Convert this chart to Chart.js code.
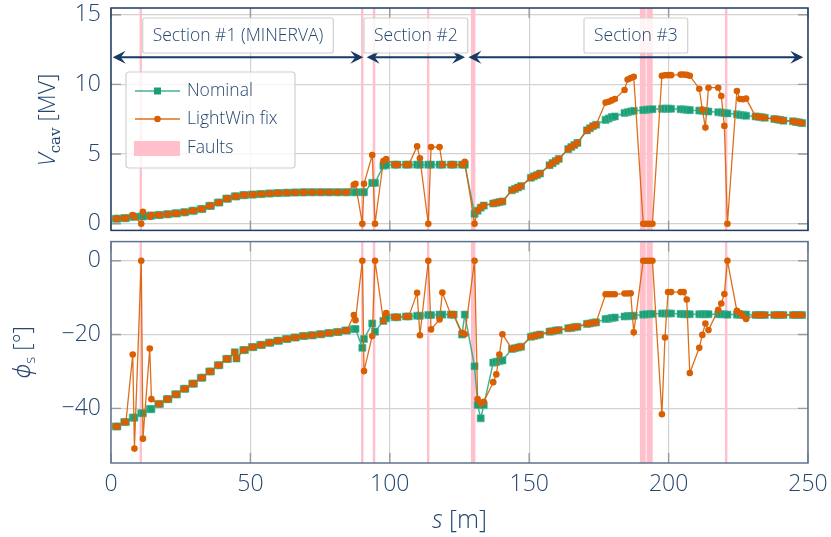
<!DOCTYPE html>
<html>
<head>
<meta charset="utf-8">
<script src="https://cdn.jsdelivr.net/npm/chart.js@4.4.1/dist/chart.umd.min.js"></script>
<style>
  html, body { margin: 0; padding: 0; background: #fff; }
  #wrap { position: relative; width: 831px; height: 537px; }
  canvas { position: absolute; left: 0; }
  #vcav { top: 0; }
  #phis { top: 236px; }
</style>
</head>
<body>
<div id="wrap">
  <canvas id="vcav" width="831" height="236"></canvas>
  <canvas id="phis" width="831" height="301"></canvas>
</div>
<script>
// cavity positions s [m] (section 1: 30 cryomodules x 2, section 2: 9 x 2, section 3: 18 x 4)
const sPos = [
  1.7, 2.3, 4.75, 5.35, 7.8, 8.4, 10.85, 11.45, 13.9, 14.5,
  16.95, 17.55, 20.0, 20.6, 23.05, 23.65, 26.1, 26.7, 29.15, 29.75,
  32.2, 32.8, 35.25, 35.85, 38.3, 38.9, 41.35, 41.95, 44.4, 45.0,
  47.45, 48.05, 50.5, 51.1, 53.55, 54.15, 56.6, 57.2, 59.65, 60.25,
  62.7, 63.3, 65.75, 66.35, 68.8, 69.4, 71.85, 72.45, 74.9, 75.5,
  77.95, 78.55, 81.0, 81.6, 84.05, 84.65, 87.1, 87.7, 90.15, 90.75,
  93.7, 94.7, 97.7, 98.7, 101.75, 102.75, 105.8, 106.8, 109.8, 110.8,
  113.8, 114.8, 117.85, 118.85, 121.9, 122.9, 125.9, 126.9,
  130.4, 131.5, 132.6, 133.7,
  137.1, 138.2, 139.3, 140.4,
  143.8, 144.9, 146.0, 147.1,
  150.6, 151.7, 152.8, 153.9,
  157.3, 158.4, 159.5, 160.6,
  164.0, 165.1, 166.2, 167.3,
  170.7, 171.8, 172.9, 174.0,
  177.4, 178.5, 179.6, 180.7,
  184.2, 185.3, 186.4, 187.5,
  190.9, 192.0, 193.1, 194.2,
  197.6, 198.7, 199.8, 200.9,
  204.3, 205.4, 206.5, 207.6,
  211.0, 212.1, 213.2, 214.3,
  217.8, 218.9, 220.0, 221.1,
  224.5, 225.6, 226.7, 227.8,
  231.2, 232.3, 233.4, 234.5,
  237.9, 239.0, 240.1, 241.2,
  244.6, 245.7, 246.8, 247.9
];

// accelerating voltage [MV]
const vNominal = [
  0.36, 0.36, 0.40, 0.40, 0.50, 0.50, 0.52, 0.52, 0.58, 0.58,
  0.62, 0.62, 0.68, 0.68, 0.74, 0.74, 0.82, 0.82, 0.93, 0.93,
  1.06, 1.06, 1.28, 1.28, 1.52, 1.52, 1.80, 1.80, 1.96, 1.96,
  2.05, 2.05, 2.09, 2.09, 2.13, 2.13, 2.17, 2.17, 2.20, 2.20,
  2.22, 2.22, 2.24, 2.24, 2.25, 2.25, 2.26, 2.26, 2.26, 2.26,
  2.26, 2.26, 2.26, 2.26, 2.26, 2.26, 2.26, 2.26, 2.26, 2.26,
  2.93, 2.93, 4.17, 4.20, 4.24, 4.24, 4.24, 4.24, 4.24, 4.24,
  4.24, 4.24, 4.24, 4.24, 4.24, 4.24, 4.24, 4.24,
  0.71, 0.93, 1.15, 1.30,
  1.45, 1.50, 1.55, 1.60,
  2.40, 2.50, 2.60, 2.70,
  3.30, 3.40, 3.50, 3.60,
  4.20, 4.35, 4.50, 4.65,
  5.35, 5.50, 5.65, 5.80,
  6.70, 6.85, 7.00, 7.10,
  7.45, 7.55, 7.65, 7.70,
  7.95, 8.00, 8.05, 8.10,
  8.15, 8.18, 8.20, 8.22,
  8.25, 8.26, 8.26, 8.25,
  8.22, 8.20, 8.18, 8.15,
  8.12, 8.10, 8.08, 8.05,
  8.00, 7.98, 7.95, 7.92,
  7.85, 7.80, 7.78, 7.75,
  7.70, 7.67, 7.64, 7.60,
  7.52, 7.48, 7.45, 7.40,
  7.35, 7.30, 7.27, 7.22
];
const vFix = [
  0.36, 0.36, 0.40, 0.40, 0.62, 0.50, 0.00, 0.85, 0.50, 0.62,
  0.62, 0.62, 0.68, 0.68, 0.74, 0.74, 0.82, 0.82, 0.93, 0.93,
  1.06, 1.06, 1.28, 1.28, 1.52, 1.52, 1.80, 1.80, 1.96, 1.96,
  2.05, 2.05, 2.09, 2.09, 2.13, 2.13, 2.17, 2.17, 2.20, 2.20,
  2.22, 2.22, 2.24, 2.24, 2.25, 2.25, 2.26, 2.26, 2.26, 2.26,
  2.26, 2.26, 2.26, 2.26, 2.26, 2.26, 2.80, 2.86, 0.00, 2.86,
  4.93, 0.00, 4.50, 4.64, 4.24, 4.24, 4.24, 4.24, 5.55, 4.69,
  0.00, 5.50, 5.50, 4.24, 4.24, 4.24, 4.24, 4.45,
  0.00, 0.95, 1.19, 1.31,
  1.45, 1.50, 1.55, 1.60,
  2.40, 2.50, 2.60, 2.70,
  3.30, 3.40, 3.50, 3.60,
  4.20, 4.35, 4.50, 4.65,
  5.35, 5.50, 5.65, 5.80,
  6.70, 6.85, 7.00, 7.10,
  8.69, 8.75, 8.85, 8.95,
  9.60, 10.35, 10.45, 10.55,
  0.00, 0.00, 0.00, 0.00,
  10.62, 10.65, 10.66, 10.66,
  10.70, 10.70, 10.68, 10.62,
  9.69, 8.20, 6.90, 9.76,
  9.76, 9.17, 7.02, 0.00,
  9.52, 8.95, 8.93, 8.98,
  7.70, 7.67, 7.64, 7.60,
  7.52, 7.48, 7.45, 7.40,
  7.35, 7.30, 7.27, 7.22
];

// synchronous phase [deg]
const phiNominal = [
  -44.9, -44.9, -43.7, -43.7, -42.5, -42.5, -41.3, -41.3, -40.2, -40.2,
  -38.8, -38.8, -37.5, -37.5, -36.2, -36.2, -34.7, -34.7, -33.3, -33.3,
  -31.7, -31.7, -30.0, -30.0, -28.3, -28.3, -26.6, -26.6, -24.8, -26.5,
  -24.2, -24.2, -23.4, -23.4, -22.8, -22.8, -22.2, -22.2, -21.7, -21.7,
  -21.2, -21.2, -20.8, -20.8, -20.4, -20.4, -20.2, -20.2, -19.9, -19.9,
  -19.6, -19.6, -19.3, -19.3, -18.9, -18.9, -18.5, -18.5, -23.6, -21.2,
  -17.0, -19.2, -16.3, -15.6, -15.3, -15.3, -15.1, -15.1, -14.9, -14.9,
  -14.7, -14.7, -14.6, -14.6, -14.6, -14.6, -20.0, -14.6,
  -28.6, -39.1, -42.7, -39.1,
  -27.6, -27.4, -27.2, -27.0,
  -23.9, -23.7, -23.5, -23.3,
  -20.6, -20.4, -20.2, -20.0,
  -19.2, -19.1, -18.9, -18.8,
  -18.3, -18.2, -18.0, -17.9,
  -17.1, -17.0, -16.8, -16.7,
  -15.8, -15.7, -15.5, -15.4,
  -15.1, -15.0, -15.0, -14.9,
  -14.6, -14.5, -14.5, -14.4,
  -14.3, -14.3, -14.3, -14.3,
  -14.4, -14.5, -14.5, -14.5,
  -14.5, -14.5, -14.5, -14.5,
  -14.5, -14.5, -14.5, -14.6,
  -14.6, -14.6, -14.6, -14.6,
  -14.7, -14.7, -14.7, -14.7,
  -14.7, -14.7, -14.7, -14.7,
  -14.7, -14.7, -14.7, -14.7
];
const phiFix = [
  -44.9, -44.9, -43.7, -43.7, -25.4, -50.9, 0.0, -48.2, -23.8, -37.5,
  -38.8, -38.8, -37.5, -37.5, -36.2, -36.2, -34.7, -34.7, -33.3, -33.3,
  -31.7, -31.7, -30.0, -30.0, -28.3, -28.3, -26.6, -26.6, -24.8, -26.5,
  -24.2, -24.2, -23.4, -23.4, -22.8, -22.8, -22.2, -22.2, -21.7, -21.7,
  -21.2, -21.2, -20.8, -20.8, -20.4, -20.4, -20.2, -20.2, -19.9, -19.9,
  -19.6, -19.6, -19.3, -19.3, -18.9, -18.9, -14.7, -16.1, 0.0, -29.9,
  -20.4, 0.0, -16.3, -14.2, -15.3, -15.3, -15.1, -15.1, -8.7, -20.2,
  0.0, -18.6, -15.9, -8.6, -14.6, -14.6, -19.5, -19.9,
  0.0, -37.5, -38.7, -38.2,
  -32.9, -30.8, -25.4, -19.9,
  -23.9, -23.7, -23.5, -23.3,
  -20.6, -20.4, -20.2, -20.0,
  -19.2, -19.1, -18.9, -18.8,
  -18.3, -18.2, -18.0, -17.9,
  -17.1, -17.0, -16.8, -16.7,
  -9.1, -9.1, -9.1, -9.1,
  -8.9, -8.9, -8.8, -19.4,
  0.0, 0.0, 0.0, 0.0,
  -41.6, -20.8, -8.5, -8.5,
  -8.5, -8.5, -10.5, -30.4,
  -23.6, -20.1, -17.0, -18.8,
  -13.3, -11.6, -9.0, 0.0,
  -13.6, -14.2, -15.0, -15.8,
  -14.7, -14.7, -14.7, -14.7,
  -14.7, -14.7, -14.7, -14.7,
  -14.7, -14.7, -14.7, -14.7
];

// failed cavities (s range, m)
const faultStart = [10.25, 89.7, 93.9, 113.35, 129.1, 189.7, 192.1, 220.2];
const faultEnd   = [11.1, 90.56, 94.8, 114.2, 130.7, 191.8, 194.3, 221.1];

// linac sections
const sectionNames = ['Section #1 (MINERVA)', 'Section #2', 'Section #3'];
const sectionStart = [0.6, 91.7, 128.2];
const sectionEnd   = [90.5, 127.0, 248.3];

const xTicks = [0, 50, 100, 150, 200, 250];
const vTicks = [0, 5, 10, 15];
const phiTicks = [0, -20, -40];

const textColor = '#24466f';
const greenLine = 'rgba(27,158,119,0.8)';
const green = '#1b9e77';
const orange = '#d95f02';
const orangeLine = 'rgba(217,95,2,0.9)';
const faultColor = '#ffc0cb';
const sans = "'Open Sans', 'DejaVu Sans', sans-serif";

Chart.defaults.font.family = sans;
Chart.defaults.font.size = 23;
Chart.defaults.font.weight = '300';
Chart.defaults.color = textColor;

function makeDatasets(nom, fix) {
  return [
    {
      label: 'Nominal',
      data: sPos.map((s, i) => ({ x: s, y: nom[i] })),
      borderColor: greenLine, borderWidth: 1.5,
      backgroundColor: green, pointBackgroundColor: green,
      pointBorderColor: '#4bb896', pointBorderWidth: 0.6,
      pointStyle: 'rect', pointRadius: 5, order: 2
    },
    {
      label: 'LightWin fix',
      data: sPos.map((s, i) => ({ x: s, y: fix[i] })),
      borderColor: orangeLine, borderWidth: 1.3,
      backgroundColor: orange, pointBackgroundColor: orange,
      pointBorderWidth: 0, pointStyle: 'circle', pointRadius: 3.3, order: 1
    }
  ];
}

function xScale(showLabels, h) {
  return {
    type: 'linear', min: 0, max: 250,
    afterBuildTicks: s => { s.ticks = xTicks.map(v => ({ value: v })); },
    afterFit: s => { s.height = h; s.paddingLeft = 0; s.paddingRight = 0; },
    grid: { color: '#d2d2d2', lineWidth: 1.2, drawTicks: false },
    border: { display: false },
    ticks: { display: showLabels, padding: 8, maxRotation: 0, autoSkip: false }
  };
}

function yScale(min, max, ticks) {
  return {
    type: 'linear', min: min, max: max,
    afterBuildTicks: s => { s.ticks = ticks.map(v => ({ value: v })); },
    afterFit: s => { s.width = 111; s.paddingTop = 0; s.paddingBottom = 0; },
    grid: { color: '#d2d2d2', lineWidth: 1.2, drawTicks: false },
    border: { display: false },
    ticks: { padding: 10, callback: v => String(v).replace('-', '\u2212') }
  };
}

// pink fault bands and inward tick marks, under the data
const underlay = {
  id: 'underlay',
  beforeDatasetsDraw(chart) {
    const { ctx, chartArea: a, scales: { x, y } } = chart;
    ctx.save();
    ctx.fillStyle = faultColor;
    faultStart.forEach((s, i) => {
      const x0 = x.getPixelForValue(s), x1 = x.getPixelForValue(faultEnd[i]);
      ctx.fillRect(x0, a.top, x1 - x0, a.bottom - a.top);
    });
    ctx.strokeStyle = '#9a9a9a';
    ctx.lineWidth = 1.4;
    ctx.beginPath();
    y.ticks.forEach(t => {
      const py = y.getPixelForValue(t.value);
      ctx.moveTo(a.left, py); ctx.lineTo(a.left + 10, py);
      ctx.moveTo(a.right - 10, py); ctx.lineTo(a.right, py);
    });
    xTicks.forEach(v => {
      const px = x.getPixelForValue(v);
      ctx.moveTo(px, a.bottom); ctx.lineTo(px, a.bottom - 10);
      ctx.moveTo(px, a.top); ctx.lineTo(px, a.top + 10);
    });
    ctx.stroke();
    ctx.restore();
  }
};

function drawFrame(chart, color) {
  const { ctx, chartArea: a } = chart;
  ctx.save();
  ctx.strokeStyle = color;
  ctx.lineWidth = 1.5;
  ctx.strokeRect(a.left, a.top, a.right - a.left, a.bottom - a.top);
  ctx.restore();
}

// text made of pieces with different fonts, rotated to read upwards
function drawRotated(ctx, cx, cy, parts) {
  ctx.save();
  ctx.translate(cx, cy);
  ctx.rotate(-Math.PI / 2);
  ctx.fillStyle = textColor;
  ctx.textBaseline = 'alphabetic';
  let total = 0;
  parts.forEach(p => { ctx.font = p.font; p.w = ctx.measureText(p.text).width; total += p.w; });
  let xx = -total / 2;
  parts.forEach(p => { ctx.font = p.font; ctx.fillText(p.text, xx, p.dy || 0); xx += p.w; });
  ctx.restore();
}

function arrowHead(ctx, x, y, dir) {
  const L = 13, H = 6.5, notch = 5;
  ctx.beginPath();
  ctx.moveTo(x, y);
  ctx.lineTo(x - dir * L, y - H);
  ctx.lineTo(x - dir * (L - notch), y);
  ctx.lineTo(x - dir * L, y + H);
  ctx.closePath();
  ctx.fill();
}

const topDecor = {
  id: 'topDecor',
  afterDraw(chart) {
    const { ctx, scales: { x } } = chart;
    drawFrame(chart, '#1e3d63');
    ctx.save();
    // section arrows and labels
    const arrowY = 57.3;
    ctx.strokeStyle = '#173a63';
    ctx.fillStyle = '#173a63';
    ctx.lineWidth = 2;
    sectionNames.forEach((name, i) => {
      const x0 = x.getPixelForValue(sectionStart[i]);
      const x1 = x.getPixelForValue(sectionEnd[i]);
      ctx.beginPath();
      ctx.moveTo(x0 + 6, arrowY); ctx.lineTo(x1 - 6, arrowY);
      ctx.stroke();
      arrowHead(ctx, x0, arrowY, -1);
      arrowHead(ctx, x1, arrowY, 1);
    });
    ctx.font = "300 17.5px " + sans;
    ctx.textAlign = 'center';
    ctx.textBaseline = 'middle';
    sectionNames.forEach((name, i) => {
      const cx = (x.getPixelForValue(sectionStart[i]) + x.getPixelForValue(sectionEnd[i])) / 2;
      const w = ctx.measureText(name).width + 20;
      ctx.fillStyle = 'rgba(255,255,255,0.8)';
      ctx.strokeStyle = '#d0d0d0';
      ctx.lineWidth = 1.2;
      ctx.beginPath();
      ctx.roundRect(cx - w / 2, 18, w, 35, 2);
      ctx.fill(); ctx.stroke();
      ctx.fillStyle = textColor;
      ctx.fillText(name, cx, 36);
    });
    // legend
    ctx.fillStyle = 'rgba(255,255,255,0.8)';
    ctx.strokeStyle = '#d0d0d0';
    ctx.beginPath();
    ctx.roundRect(126, 72, 169, 96, 3);
    ctx.fill(); ctx.stroke();
    ctx.lineWidth = 1.5;
    ctx.strokeStyle = greenLine;
    ctx.beginPath(); ctx.moveTo(135, 91); ctx.lineTo(180, 91); ctx.stroke();
    ctx.fillStyle = green;
    ctx.fillRect(157.5 - 3.5, 91 - 3.5, 7, 7);
    ctx.strokeStyle = orangeLine;
    ctx.lineWidth = 1.3;
    ctx.beginPath(); ctx.moveTo(135, 119); ctx.lineTo(180, 119); ctx.stroke();
    ctx.fillStyle = orange;
    ctx.beginPath(); ctx.arc(157.5, 119, 3.3, 0, Math.PI * 2); ctx.fill();
    ctx.fillStyle = faultColor;
    ctx.fillRect(134, 141, 46, 15);
    ctx.fillStyle = textColor;
    ctx.textAlign = 'left';
    ctx.fillText('Nominal', 187, 91);
    ctx.fillText('LightWin fix', 187, 119);
    ctx.fillText('Faults', 187, 148);
    ctx.restore();
    drawRotated(ctx, 55, 120, [
      { text: 'V', font: "italic 300 24px " + sans },
      { text: 'cav', font: "15px 'DejaVu Serif', serif", dy: 5 },
      { text: ' [MV]', font: "300 23px " + sans }
    ]);
  }
};

const bottomDecor = {
  id: 'bottomDecor',
  afterDraw(chart) {
    const { ctx, chartArea: a } = chart;
    drawFrame(chart, '#5d7490');
    drawRotated(ctx, 30, (a.top + a.bottom) / 2, [
      { text: '\u03d5', font: "italic 300 23px 'Noto Sans', 'DejaVu Sans', sans-serif" },
      { text: 's', font: "300 15px " + sans, dy: 5 },
      { text: ' [\u00b0]', font: "300 23px " + sans }
    ]);
    ctx.save();
    ctx.fillStyle = textColor;
    ctx.textBaseline = 'alphabetic';
    const parts = [
      { text: 's', font: "italic 300 25px " + sans },
      { text: ' [m]', font: "300 25px " + sans }
    ];
    let total = 0;
    parts.forEach(p => { ctx.font = p.font; p.w = ctx.measureText(p.text).width; total += p.w; });
    let xx = (a.left + a.right) / 2 - total / 2;
    parts.forEach(p => { ctx.font = p.font; ctx.fillText(p.text, xx, 292); xx += p.w; });
    ctx.restore();
  }
};

const common = {
  responsive: false,
  animation: false,
  events: [],
  plugins: { legend: { display: false }, tooltip: { enabled: false } }
};

new Chart(document.getElementById('vcav').getContext('2d'), {
  type: 'line',
  data: { datasets: makeDatasets(vNominal, vFix) },
  options: {
    ...common,
    layout: { padding: { top: 8, right: 23, left: 0, bottom: 0 } },
    scales: { x: xScale(false, 4), y: yScale(-0.48, 15.48, vTicks) }
  },
  plugins: [underlay, topDecor]
});

new Chart(document.getElementById('phis').getContext('2d'), {
  type: 'line',
  data: { datasets: makeDatasets(phiNominal, phiFix) },
  options: {
    ...common,
    layout: { padding: { top: 4, right: 23, left: 0, bottom: 0 } },
    scales: { x: xScale(true, 74), y: yScale(-54.8, 5.18, phiTicks) }
  },
  plugins: [underlay, bottomDecor]
});
</script>
</body>
</html>
